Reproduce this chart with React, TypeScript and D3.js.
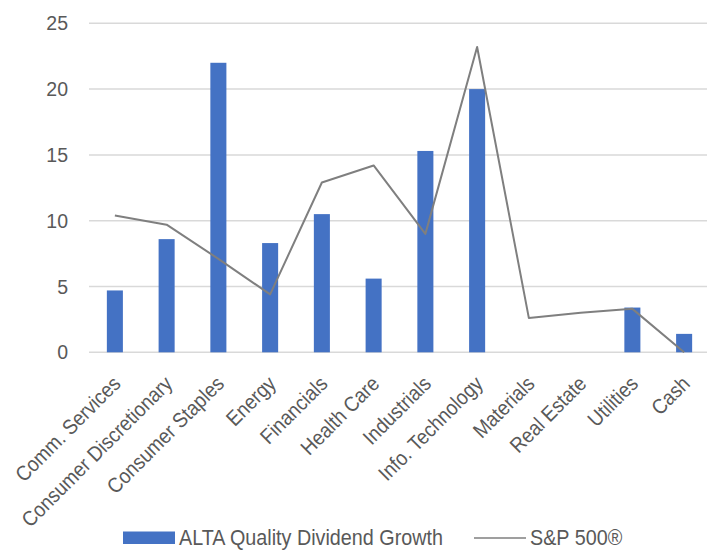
import { useEffect, useRef } from "react";
import * as d3 from "d3";

const categories = [
  "Comm. Services",
  "Consumer Discretionary",
  "Consumer Staples",
  "Energy",
  "Financials",
  "Health Care",
  "Industrials",
  "Info. Technology",
  "Materials",
  "Real Estate",
  "Utilities",
  "Cash",
];

const altaValues = [4.7, 8.6, 22.0, 8.3, 10.5, 5.6, 15.3, 20.0, 0, 0, 3.4, 1.4];
const spValues = [10.4, 9.7, 7.1, 4.4, 12.9, 14.2, 9.0, 23.2, 2.6, 3.0, 3.3, 0];
const yTicks = [0, 5, 10, 15, 20, 25];

const barName = "ALTA Quality Dividend Growth";
const lineName = "S&P 500®";

const App = () => {
  const ref = useRef<SVGSVGElement>(null);

  useEffect(() => {
    draw();
  }, []);

  const draw = () => {
    const width = 707;
    const height = 550;
    const font = "'Liberation Sans', Arial, sans-serif";
    const textColor = "#595959";
    const labelSize = 21.5;

    const svg = d3.select(ref.current).attr("width", width).attr("height", height);
    svg.selectAll("*").remove();

    const xScale = d3
      .scaleBand()
      .domain(categories)
      .range([89, 710])
      .paddingInner(0.69)
      .paddingOuter(0.345);

    const yScale = d3.scaleLinear().domain([0, 25]).range([352.3, 23.3]);

    // gridlines
    svg
      .append("g")
      .selectAll("line")
      .data(yTicks)
      .join("line")
      .attr("x1", 89)
      .attr("x2", width)
      .attr("y1", (d) => yScale(d))
      .attr("y2", (d) => yScale(d))
      .attr("stroke", "#d9d9d9")
      .attr("stroke-width", 1.5);

    // y labels
    svg
      .append("g")
      .selectAll("text")
      .data(yTicks)
      .join("text")
      .attr("x", 68)
      .attr("y", (d) => yScale(d))
      .attr("dy", "0.36em")
      .attr("text-anchor", "end")
      .attr("font-family", font)
      .attr("font-size", 19.5)
      .attr("fill", textColor)
      .text((d) => d);

    // bars
    svg
      .append("g")
      .selectAll("rect")
      .data(altaValues)
      .join("rect")
      .attr("x", (d, i) => xScale(categories[i])!)
      .attr("width", xScale.bandwidth())
      .attr("y", (d) => yScale(d))
      .attr("height", (d) => yScale(0) - yScale(d))
      .attr("fill", "#4472c4");

    // line
    const line = d3
      .line<number>()
      .x((d, i) => xScale(categories[i])! + xScale.bandwidth() / 2)
      .y((d) => yScale(d));

    svg
      .append("path")
      .datum(spValues)
      .attr("d", line)
      .attr("fill", "none")
      .attr("stroke", "#7f7f7f")
      .attr("stroke-width", 2)
      .attr("stroke-linejoin", "round");

    // category labels (slightly condensed like the original)
    svg
      .append("g")
      .selectAll("text")
      .data(categories)
      .join("text")
      .attr(
        "transform",
        (d) =>
          `translate(${xScale(d)! + xScale.bandwidth() / 2 + 7},${385}) rotate(-45) scale(0.9,1)`
      )
      .attr("text-anchor", "end")
      .attr("font-family", font)
      .attr("font-size", 21)
      .attr("fill", textColor)
      .text((d) => d);

    // legend
    const legend = svg.append("g");
    legend
      .append("rect")
      .attr("x", 123)
      .attr("y", 531.5)
      .attr("width", 52)
      .attr("height", 12.5)
      .attr("fill", "#4472c4");
    legend
      .append("text")
      .attr("transform", "translate(179,545) scale(0.92,1)")
      .attr("font-family", font)
      .attr("font-size", labelSize)
      .attr("fill", textColor)
      .text(barName);
    legend
      .append("line")
      .attr("x1", 474)
      .attr("x2", 526)
      .attr("y1", 538)
      .attr("y2", 538)
      .attr("stroke", "#7f7f7f")
      .attr("stroke-width", 1.5);
    legend
      .append("text")
      .attr("transform", "translate(530,545) scale(0.92,1)")
      .attr("font-family", font)
      .attr("font-size", labelSize)
      .attr("fill", textColor)
      .text(lineName);
  };

  return (
    <svg
      ref={ref}
      style={{ position: "absolute", left: 0, top: 0, background: "#fff" }}
    ></svg>
  );
};

export default App;
